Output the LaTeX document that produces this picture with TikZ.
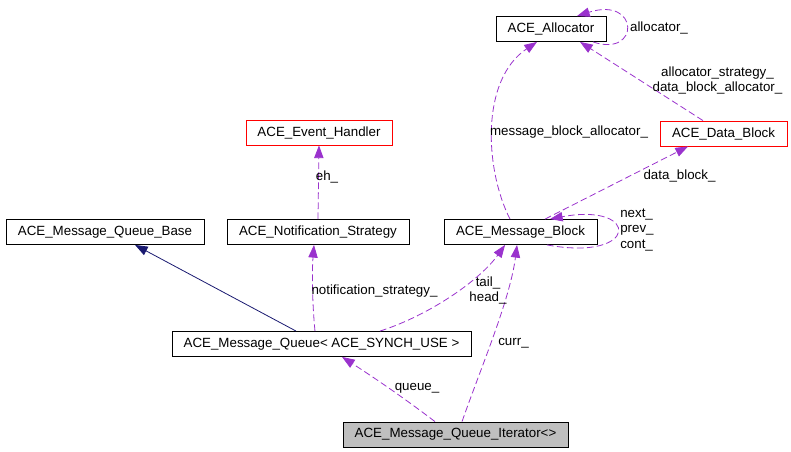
\documentclass[tikz,border=0pt]{standalone}
\usepackage{fontspec}
\setmainfont{Liberation Sans}
\usetikzlibrary{arrows.meta}
\definecolor{usecol}{HTML}{9A32CD}
\definecolor{basecol}{HTML}{191970}
\tikzset{
	cls/.style={draw, inner sep=0pt, minimum height=19pt, font=\fontsize{10}{11.5}\selectfont},
	lbl/.style={inner sep=0pt, font=\fontsize{10}{11.5}\selectfont},
	uses/.style={draw=usecol, line width=0.6pt, dash pattern=on 5pt off 2.5pt, -{Triangle[length=9.5pt,width=7pt]}},
	inherits/.style={draw=basecol, line width=0.6pt, -{Triangle[length=9.5pt,width=7pt]}}
}
\begin{document}
\begin{tikzpicture}[x=0.75pt, y=-0.75pt]
	\useasboundingbox (0,0) rectangle (791,452);
	\node[cls, minimum width=82.5pt] (alloc) at (551,29) {ACE\_Allocator};
	\node[cls, draw=red, minimum width=95.25pt] (datablock) at (723.5,133.5) {ACE\_Data\_Block};
	\node[cls, draw=red, minimum width=109.5pt] (eventh) at (319,132.5) {ACE\_Event\_Handler};
	\node[cls, minimum width=148.5pt] (mqbase) at (105,232) {ACE\_Message\_Queue\_Base};
	\node[cls, minimum width=136.5pt] (notif) at (318,232) {ACE\_Notification\_Strategy};
	\node[cls, minimum width=114.75pt] (msgblock) at (520.5,232) {ACE\_Message\_Block};
	\node[cls, minimum width=224.25pt] (mq) at (321.5,344) {ACE\_Message\_Queue< ACE\_SYNCH\_USE >};
	\node[cls, fill={rgb,255:red,191;green,191;blue,191}, minimum width=168.75pt] (iter) at (455.5,434.5) {ACE\_Message\_Queue\_Iterator<>};
	\draw[inherits] ([xshift=-19.1pt]mq.north) to ([xshift=22.5pt]mqbase.south);
	\draw[uses] ([xshift=-4.9pt]mq.north) .. controls (312,300) and (312,270) .. ([xshift=-3pt]notif.south);
	\draw[uses] (notif.north) to (eventh.south);
	\draw[uses] ([xshift=43.9pt]mq.north) .. controls (430,315) and (480,280) .. ([xshift=-11.6pt]msgblock.south);
	\draw[uses] ([xshift=-15.4pt]iter.north) .. controls (400,395) and (370,375) .. ([xshift=15.4pt]mq.south);
	\draw[uses] ([xshift=4.9pt]iter.north) .. controls (480,370) and (510,300) .. ([xshift=-2.6pt]msgblock.south);
	\draw[uses] ([xshift=18.4pt]msgblock.north) to ([xshift=-26.6pt]datablock.south);
	\draw[uses] ([xshift=-7.9pt]msgblock.north) .. controls (485,170) and (480,80) .. ([xshift=-10.5pt]alloc.south);
	\draw[uses] ([xshift=-15.4pt]datablock.north) to ([xshift=21.75pt]alloc.south);
	\draw[uses] ([xshift=19.9pt]msgblock.south) .. controls (640,262) and (640,202) .. ([xshift=22.1pt]msgblock.north);
	\draw[uses] ([xshift=31.5pt]alloc.south) .. controls (640,58) and (640,-4) .. ([xshift=19.5pt]alloc.north);
	\node[lbl] (lnotif) at (374.5,291) {notification\_strategy\_};
	\node[lbl] (leh) at (327,177) {eh\_};
	\node[lbl, align=center] (ltail) at (488,290.5) {tail\_\\head\_};
	\node[lbl] (lcurr) at (513.5,343) {curr\_};
	\node[lbl] (lqueue) at (417,388) {queue\_};
	\node[lbl] (ldata) at (679.5,176) {data\_block\_};
	\node[lbl] (lmba) at (569,132) {message\_block\_allocator\_};
	\node[lbl, align=center] (lstrat) at (717.5,80.5) {allocator\_strategy\_\\data\_block\_allocator\_};
	\node[lbl] (lalloc) at (659,28) {allocator\_};
	\node[lbl, align=left, anchor=west] (lnext) at (620,230) {next\_\\prev\_\\cont\_};
\end{tikzpicture}
\end{document}
